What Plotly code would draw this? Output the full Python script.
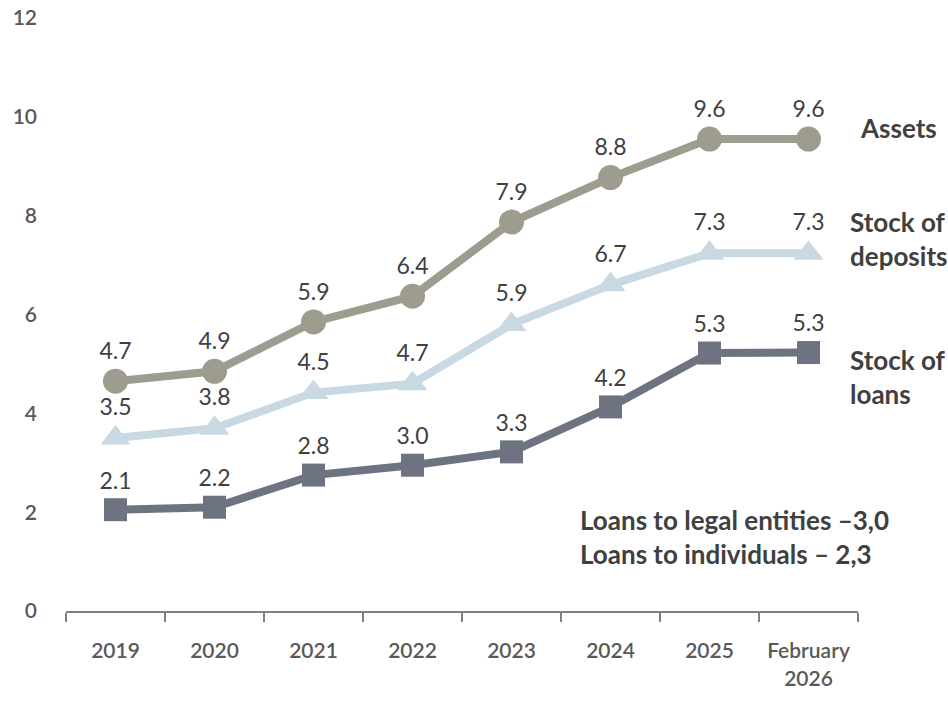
import plotly.graph_objects as go

categories = ["2019", "2020", "2021", "2022", "2023", "2024", "2025", "February<br>2026"]
assets = [4.65, 4.85, 5.85, 6.37, 7.87, 8.77, 9.55, 9.55]
assets_labels = ["4.7", "4.9", "5.9", "6.4", "7.9", "8.8", "9.6", "9.6"]
deposits = [3.5, 3.7, 4.42, 4.6, 5.8, 6.6, 7.24, 7.24]
deposits_labels = ["3.5", "3.8", "4.5", "4.7", "5.9", "6.7", "7.3", "7.3"]
loans = [2.05, 2.1, 2.75, 2.95, 3.22, 4.13, 5.22, 5.23]
loans_labels = ["2.1", "2.2", "2.8", "3.0", "3.3", "4.2", "5.3", "5.3"]
y_ticks = [0, 2, 4, 6, 8, 10, 12]

series_names = ["Assets", "Stock of<br>deposits", "Stock of<br>loans"]
note_text = "Loans to legal entities –3,0<br>Loans to individuals – 2,3"

FONT = "Lato"
x_idx = list(range(len(categories)))

fig = go.Figure()

def add_series(vals, labels, color, symbol, size):
    fig.add_trace(go.Scatter(
        x=x_idx, y=vals, mode="lines+markers+text",
        line=dict(color=color, width=8),
        marker=dict(color=color, symbol=symbol, size=size),
        text=labels, textposition="top center",
        textfont=dict(family=FONT, size=23, color="#404040"),
        cliponaxis=False, showlegend=False, hoverinfo="skip",
    ))

add_series(assets, assets_labels, "#9E9C8F", "circle", 25)
add_series(deposits, deposits_labels, "#C8D9E4", "triangle-up", 26)
add_series(loans, loans_labels, "#6D7381", "square", 23)

ann_font = dict(family=FONT, size=26, color="#404040", weight="bold")
fig.add_annotation(x=7.5, y=9.77, xref="x", yref="y", text=series_names[0],
                   showarrow=False, xanchor="left", yanchor="middle", align="left", font=ann_font)
fig.add_annotation(x=7.4, y=7.53, xref="x", yref="y", text=series_names[1],
                   showarrow=False, xanchor="left", yanchor="middle", align="left", font=ann_font)
fig.add_annotation(x=7.4, y=4.74, xref="x", yref="y", text=series_names[2],
                   showarrow=False, xanchor="left", yanchor="middle", align="left", font=ann_font)
fig.add_annotation(x=4.67, y=1.49, xref="x", yref="y", text=note_text,
                   showarrow=False, xanchor="left", yanchor="middle", align="left", font=ann_font)

fig.update_layout(
    width=948, height=701,
    margin=dict(l=66, r=90, t=18, b=90),
    plot_bgcolor="white", paper_bgcolor="white",
    font=dict(family=FONT, size=21, color="#595959"),
)
fig.update_xaxes(
    type="linear", range=[-0.5, 7.5], automargin=False,
    tickmode="array", tickvals=x_idx, ticktext=categories,
    showgrid=False, zeroline=False,
    showline=True, linecolor="#808080", linewidth=2,
    ticks="", ticklabelstandoff=20,
    tickfont=dict(family=FONT, size=21, color="#595959", weight=600),
)
# boundary ticks via minor ticks
fig.update_xaxes(minor=dict(tickvals=[i - 0.5 for i in range(len(categories) + 1)],
                            ticks="outside", ticklen=9, tickcolor="#808080", tickwidth=2))
fig.update_yaxes(
    range=[0, 12], tickvals=y_ticks, automargin=False,
    showgrid=False, zeroline=False, showline=False,
    ticks="", ticklabelstandoff=28,
    tickfont=dict(family=FONT, size=21, color="#595959", weight=600),
)

fig.write_html("out.html")
